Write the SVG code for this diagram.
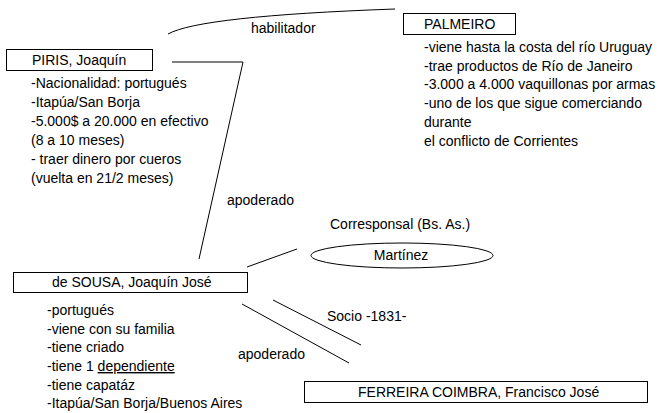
<svg xmlns="http://www.w3.org/2000/svg" width="662" height="413" viewBox="0 0 662 413">
<style>
text{font-family:"Liberation Sans",Arial,sans-serif;font-size:14px;fill:#000}
.box{fill:#fff;stroke:#000;stroke-width:1}
.ln{fill:none;stroke:#000;stroke-width:1}
</style>
<rect width="662" height="413" fill="#fff"/>
<g id="connectors">
<path class="ln" d="M168,34 Q200,16 395,9"/>
<polyline class="ln" points="172,62 243,62 199,259"/>
<line class="ln" x1="247" y1="267" x2="297" y2="249"/>
<line class="ln" x1="273" y1="300" x2="361" y2="345"/>
<line class="ln" x1="242" y1="304" x2="349" y2="363"/>
<text x="251" y="33">habilitador</text>
<text x="227" y="205">apoderado</text>
<text x="330" y="229">Corresponsal (Bs. As.)</text>
<text x="327" y="321">Socio -1831-</text>
<text x="238" y="359">apoderado</text>
</g>
<g id="piris">
<rect class="box" x="6.5" y="49.5" width="146" height="21"/>
<text x="32" y="65">PIRIS, Joaquín</text>
<text x="31" y="88">-Nacionalidad: portugués</text>
<text x="31" y="107">-Itapúa/San Borja</text>
<text x="31" y="126">-5.000$ a 20.000 en efectivo</text>
<text x="31" y="145">(8 a 10 meses)</text>
<text x="31" y="164">- traer dinero por cueros</text>
<text x="31" y="183">(vuelta en 21/2 meses)</text>
</g>
<g id="palmeiro">
<rect class="box" x="403.5" y="13.5" width="112" height="21"/>
<text x="424" y="29">PALMEIRO</text>
<text x="424" y="52">-viene hasta la costa del río Uruguay</text>
<text x="424" y="70.5">-trae productos de Río de Janeiro</text>
<text x="424" y="89">-3.000 a 4.000 vaquillonas por armas</text>
<text x="424" y="108">-uno de los que sigue comerciando</text>
<text x="424" y="127">durante</text>
<text x="424" y="146">el conflicto de Corrientes</text>
</g>
<g id="sousa">
<rect class="box" x="13.5" y="272.5" width="234" height="20"/>
<text x="52" y="287">de SOUSA, Joaquín José</text>
<text x="47" y="315">-portugués</text>
<text x="47" y="333.5">-viene con su familia</text>
<text x="47" y="352">-tiene criado</text>
<text x="47" y="371">-tiene 1 <tspan text-decoration="underline">dependiente</tspan></text>
<text x="47" y="389.5">-tiene capatáz</text>
<text x="47" y="408">-Itapúa/San Borja/Buenos Aires</text>
</g>
<g id="martinez">
<ellipse class="box" cx="402" cy="255.5" rx="91" ry="12.5"/>
<text x="401" y="260" text-anchor="middle">Martínez</text>
</g>
<g id="ferreira">
<rect class="box" x="304.5" y="381.5" width="343" height="21"/>
<text x="358" y="397">FERREIRA COIMBRA, Francisco José</text>
</g>
</svg>
